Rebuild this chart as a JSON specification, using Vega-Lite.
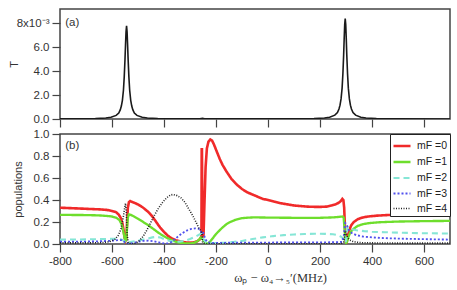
{
  "$schema": "https://vega.github.io/schema/vega-lite/v6.json",
  "padding": {"left": 7, "top": 8, "right": 5, "bottom": 5},
  "background": "white",
  "spacing": 15,
  "bounds": "flush",
  "resolve": {"legend": {"color": "independent", "strokeDash": "independent", "strokeWidth": "independent"}},
  "config": {
    "view": {"stroke": "#444", "strokeWidth": 1.5},
    "font": "Liberation Sans",
    "axis": {"domain": false, "grid": false, "tickCount": 20, "tickColor": "#444", "tickWidth": 1.2, "tickSize": 8, "labelPadding": 3, "labelFontSize": 11.5, "labelColor": "#333", "labelFont": "Liberation Sans", "labelOverlap": false, "labelFlush": false, "labelBound": false, "titleFontWeight": "normal", "titleFontSize": 11, "titleColor": "#333", "titleFont": "Liberation Sans"}
  },
  "datasets": {
    "trans": [
      {"f": -800, "T": 0.01}, {"f": -700, "T": 0.02}, {"f": -664, "T": 0.035}, {"f": -624, "T": 0.08}, {"f": -604, "T": 0.14},
      {"f": -584, "T": 0.3}, {"f": -574, "T": 0.5}, {"f": -568, "T": 0.78}, {"f": -564, "T": 1.08}, {"f": -560, "T": 1.56},
      {"f": -556, "T": 2.4}, {"f": -553, "T": 3.5}, {"f": -550, "T": 5.0}, {"f": -548, "T": 6.2}, {"f": -546, "T": 7.3},
      {"f": -544, "T": 7.8}, {"f": -542, "T": 7.3}, {"f": -540, "T": 6.2}, {"f": -538, "T": 5.0}, {"f": -535, "T": 3.5},
      {"f": -532, "T": 2.4}, {"f": -528, "T": 1.56}, {"f": -524, "T": 1.08}, {"f": -520, "T": 0.78}, {"f": -514, "T": 0.5},
      {"f": -504, "T": 0.3}, {"f": -484, "T": 0.14}, {"f": -464, "T": 0.08}, {"f": -424, "T": 0.035}, {"f": -344, "T": 0.012},
      {"f": -262, "T": 0.02}, {"f": -252, "T": 0.06}, {"f": -244, "T": 0.02}, {"f": -100, "T": 0.008}, {"f": 0, "T": 0.008},
      {"f": 97, "T": 0.013}, {"f": 177, "T": 0.038}, {"f": 217, "T": 0.086}, {"f": 237, "T": 0.15}, {"f": 257, "T": 0.32},
      {"f": 267, "T": 0.54}, {"f": 273, "T": 0.84}, {"f": 277, "T": 1.16}, {"f": 281, "T": 1.68}, {"f": 285, "T": 2.58},
      {"f": 288, "T": 3.77}, {"f": 291, "T": 5.38}, {"f": 293, "T": 6.72}, {"f": 295, "T": 7.9}, {"f": 297, "T": 8.4},
      {"f": 299, "T": 7.9}, {"f": 301, "T": 6.72}, {"f": 303, "T": 5.38}, {"f": 306, "T": 3.77}, {"f": 309, "T": 2.58},
      {"f": 313, "T": 1.68}, {"f": 317, "T": 1.16}, {"f": 321, "T": 0.84}, {"f": 327, "T": 0.54}, {"f": 337, "T": 0.32},
      {"f": 357, "T": 0.15}, {"f": 377, "T": 0.086}, {"f": 417, "T": 0.038}, {"f": 497, "T": 0.013}, {"f": 700, "T": 0.004}
    ],
    "pops": [
      {"s": "mF =0", "f": -800, "p": 0.33}, {"s": "mF =0", "f": -750, "p": 0.325}, {"s": "mF =0", "f": -700, "p": 0.32}, {"s": "mF =0", "f": -650, "p": 0.315},
      {"s": "mF =0", "f": -620, "p": 0.31}, {"s": "mF =0", "f": -600, "p": 0.3}, {"s": "mF =0", "f": -585, "p": 0.29}, {"s": "mF =0", "f": -575, "p": 0.27},
      {"s": "mF =0", "f": -567, "p": 0.24}, {"s": "mF =0", "f": -560, "p": 0.19}, {"s": "mF =0", "f": -555, "p": 0.12}, {"s": "mF =0", "f": -551, "p": 0.05},
      {"s": "mF =0", "f": -548, "p": 0.03}, {"s": "mF =0", "f": -545, "p": 0.05}, {"s": "mF =0", "f": -542, "p": 0.2}, {"s": "mF =0", "f": -539, "p": 0.33},
      {"s": "mF =0", "f": -535, "p": 0.38}, {"s": "mF =0", "f": -530, "p": 0.39}, {"s": "mF =0", "f": -520, "p": 0.38}, {"s": "mF =0", "f": -500, "p": 0.36},
      {"s": "mF =0", "f": -480, "p": 0.33}, {"s": "mF =0", "f": -460, "p": 0.29}, {"s": "mF =0", "f": -445, "p": 0.25}, {"s": "mF =0", "f": -430, "p": 0.2},
      {"s": "mF =0", "f": -415, "p": 0.15}, {"s": "mF =0", "f": -400, "p": 0.11}, {"s": "mF =0", "f": -385, "p": 0.075}, {"s": "mF =0", "f": -370, "p": 0.05},
      {"s": "mF =0", "f": -355, "p": 0.035}, {"s": "mF =0", "f": -340, "p": 0.025}, {"s": "mF =0", "f": -320, "p": 0.015}, {"s": "mF =0", "f": -300, "p": 0.012},
      {"s": "mF =0", "f": -285, "p": 0.015}, {"s": "mF =0", "f": -272, "p": 0.025}, {"s": "mF =0", "f": -263, "p": 0.04}, {"s": "mF =0", "f": -256, "p": 0.07},
      {"s": "mF =0", "f": -255, "p": 0.86}, {"s": "mF =0", "f": -254, "p": 0.86}, {"s": "mF =0", "f": -252, "p": 0.06}, {"s": "mF =0", "f": -248, "p": 0.08},
      {"s": "mF =0", "f": -244, "p": 0.4}, {"s": "mF =0", "f": -240, "p": 0.7}, {"s": "mF =0", "f": -235, "p": 0.87}, {"s": "mF =0", "f": -229, "p": 0.93},
      {"s": "mF =0", "f": -222, "p": 0.95}, {"s": "mF =0", "f": -215, "p": 0.94}, {"s": "mF =0", "f": -207, "p": 0.9}, {"s": "mF =0", "f": -197, "p": 0.84},
      {"s": "mF =0", "f": -185, "p": 0.77}, {"s": "mF =0", "f": -175, "p": 0.72}, {"s": "mF =0", "f": -160, "p": 0.66}, {"s": "mF =0", "f": -140, "p": 0.59},
      {"s": "mF =0", "f": -120, "p": 0.54}, {"s": "mF =0", "f": -100, "p": 0.5}, {"s": "mF =0", "f": -80, "p": 0.47}, {"s": "mF =0", "f": -60, "p": 0.45},
      {"s": "mF =0", "f": -40, "p": 0.43}, {"s": "mF =0", "f": -20, "p": 0.41}, {"s": "mF =0", "f": 0, "p": 0.4}, {"s": "mF =0", "f": 25, "p": 0.385},
      {"s": "mF =0", "f": 50, "p": 0.37}, {"s": "mF =0", "f": 75, "p": 0.36}, {"s": "mF =0", "f": 100, "p": 0.35}, {"s": "mF =0", "f": 125, "p": 0.345},
      {"s": "mF =0", "f": 150, "p": 0.34}, {"s": "mF =0", "f": 175, "p": 0.338}, {"s": "mF =0", "f": 200, "p": 0.337}, {"s": "mF =0", "f": 225, "p": 0.34},
      {"s": "mF =0", "f": 245, "p": 0.35}, {"s": "mF =0", "f": 260, "p": 0.36}, {"s": "mF =0", "f": 272, "p": 0.375}, {"s": "mF =0", "f": 280, "p": 0.39},
      {"s": "mF =0", "f": 286, "p": 0.41}, {"s": "mF =0", "f": 290, "p": 0.4}, {"s": "mF =0", "f": 293, "p": 0.33}, {"s": "mF =0", "f": 296, "p": 0.15},
      {"s": "mF =0", "f": 299, "p": 0.02}, {"s": "mF =0", "f": 302, "p": 0.01}, {"s": "mF =0", "f": 306, "p": 0.06}, {"s": "mF =0", "f": 312, "p": 0.12},
      {"s": "mF =0", "f": 320, "p": 0.17}, {"s": "mF =0", "f": 330, "p": 0.2}, {"s": "mF =0", "f": 345, "p": 0.225}, {"s": "mF =0", "f": 362, "p": 0.24},
      {"s": "mF =0", "f": 385, "p": 0.25}, {"s": "mF =0", "f": 420, "p": 0.258}, {"s": "mF =0", "f": 460, "p": 0.263}, {"s": "mF =0", "f": 520, "p": 0.268},
      {"s": "mF =0", "f": 600, "p": 0.273}, {"s": "mF =0", "f": 700, "p": 0.278},

      {"s": "mF =1", "f": -800, "p": 0.265}, {"s": "mF =1", "f": -700, "p": 0.263}, {"s": "mF =1", "f": -650, "p": 0.26}, {"s": "mF =1", "f": -620, "p": 0.255},
      {"s": "mF =1", "f": -600, "p": 0.25}, {"s": "mF =1", "f": -585, "p": 0.24}, {"s": "mF =1", "f": -572, "p": 0.22}, {"s": "mF =1", "f": -563, "p": 0.18},
      {"s": "mF =1", "f": -557, "p": 0.12}, {"s": "mF =1", "f": -552, "p": 0.06}, {"s": "mF =1", "f": -548, "p": 0.03}, {"s": "mF =1", "f": -545, "p": 0.04},
      {"s": "mF =1", "f": -542, "p": 0.15}, {"s": "mF =1", "f": -539, "p": 0.24}, {"s": "mF =1", "f": -535, "p": 0.27}, {"s": "mF =1", "f": -528, "p": 0.265},
      {"s": "mF =1", "f": -515, "p": 0.25}, {"s": "mF =1", "f": -500, "p": 0.23}, {"s": "mF =1", "f": -480, "p": 0.2}, {"s": "mF =1", "f": -460, "p": 0.17},
      {"s": "mF =1", "f": -440, "p": 0.135}, {"s": "mF =1", "f": -420, "p": 0.1}, {"s": "mF =1", "f": -400, "p": 0.07}, {"s": "mF =1", "f": -380, "p": 0.045},
      {"s": "mF =1", "f": -360, "p": 0.025}, {"s": "mF =1", "f": -340, "p": 0.012}, {"s": "mF =1", "f": -320, "p": 0.006}, {"s": "mF =1", "f": -300, "p": 0.005},
      {"s": "mF =1", "f": -285, "p": 0.01}, {"s": "mF =1", "f": -272, "p": 0.025}, {"s": "mF =1", "f": -263, "p": 0.045}, {"s": "mF =1", "f": -257, "p": 0.06},
      {"s": "mF =1", "f": -253, "p": 0.05}, {"s": "mF =1", "f": -248, "p": 0.03}, {"s": "mF =1", "f": -242, "p": 0.015}, {"s": "mF =1", "f": -235, "p": 0.005},
      {"s": "mF =1", "f": -228, "p": 0.01}, {"s": "mF =1", "f": -220, "p": 0.03}, {"s": "mF =1", "f": -210, "p": 0.06}, {"s": "mF =1", "f": -200, "p": 0.09},
      {"s": "mF =1", "f": -190, "p": 0.115}, {"s": "mF =1", "f": -175, "p": 0.15}, {"s": "mF =1", "f": -160, "p": 0.18}, {"s": "mF =1", "f": -145, "p": 0.2},
      {"s": "mF =1", "f": -125, "p": 0.22}, {"s": "mF =1", "f": -100, "p": 0.235}, {"s": "mF =1", "f": -75, "p": 0.24}, {"s": "mF =1", "f": -50, "p": 0.242},
      {"s": "mF =1", "f": 0, "p": 0.24}, {"s": "mF =1", "f": 100, "p": 0.238}, {"s": "mF =1", "f": 200, "p": 0.238}, {"s": "mF =1", "f": 250, "p": 0.242},
      {"s": "mF =1", "f": 275, "p": 0.247}, {"s": "mF =1", "f": 286, "p": 0.25}, {"s": "mF =1", "f": 291, "p": 0.24}, {"s": "mF =1", "f": 294, "p": 0.15},
      {"s": "mF =1", "f": 297, "p": 0.05}, {"s": "mF =1", "f": 300, "p": 0.01}, {"s": "mF =1", "f": 304, "p": 0.02}, {"s": "mF =1", "f": 310, "p": 0.07},
      {"s": "mF =1", "f": 318, "p": 0.11}, {"s": "mF =1", "f": 330, "p": 0.14}, {"s": "mF =1", "f": 345, "p": 0.165}, {"s": "mF =1", "f": 365, "p": 0.18},
      {"s": "mF =1", "f": 390, "p": 0.19}, {"s": "mF =1", "f": 430, "p": 0.198}, {"s": "mF =1", "f": 500, "p": 0.204}, {"s": "mF =1", "f": 600, "p": 0.208},
      {"s": "mF =1", "f": 700, "p": 0.21},

      {"s": "mF =2", "f": -800, "p": 0.04}, {"s": "mF =2", "f": -700, "p": 0.042}, {"s": "mF =2", "f": -620, "p": 0.045}, {"s": "mF =2", "f": -590, "p": 0.048},
      {"s": "mF =2", "f": -570, "p": 0.045}, {"s": "mF =2", "f": -558, "p": 0.035}, {"s": "mF =2", "f": -550, "p": 0.02}, {"s": "mF =2", "f": -545, "p": 0.01},
      {"s": "mF =2", "f": -538, "p": 0.015}, {"s": "mF =2", "f": -525, "p": 0.02}, {"s": "mF =2", "f": -500, "p": 0.03}, {"s": "mF =2", "f": -470, "p": 0.045},
      {"s": "mF =2", "f": -445, "p": 0.06}, {"s": "mF =2", "f": -430, "p": 0.065}, {"s": "mF =2", "f": -415, "p": 0.06}, {"s": "mF =2", "f": -400, "p": 0.045},
      {"s": "mF =2", "f": -380, "p": 0.03}, {"s": "mF =2", "f": -360, "p": 0.022}, {"s": "mF =2", "f": -340, "p": 0.022}, {"s": "mF =2", "f": -320, "p": 0.03},
      {"s": "mF =2", "f": -300, "p": 0.045}, {"s": "mF =2", "f": -280, "p": 0.065}, {"s": "mF =2", "f": -265, "p": 0.085}, {"s": "mF =2", "f": -257, "p": 0.095},
      {"s": "mF =2", "f": -252, "p": 0.07}, {"s": "mF =2", "f": -246, "p": 0.035}, {"s": "mF =2", "f": -238, "p": 0.015}, {"s": "mF =2", "f": -225, "p": 0.008},
      {"s": "mF =2", "f": -200, "p": 0.008}, {"s": "mF =2", "f": -170, "p": 0.012}, {"s": "mF =2", "f": -130, "p": 0.02}, {"s": "mF =2", "f": -100, "p": 0.028},
      {"s": "mF =2", "f": -60, "p": 0.045}, {"s": "mF =2", "f": -20, "p": 0.06}, {"s": "mF =2", "f": 20, "p": 0.072}, {"s": "mF =2", "f": 60, "p": 0.081},
      {"s": "mF =2", "f": 100, "p": 0.087}, {"s": "mF =2", "f": 140, "p": 0.091}, {"s": "mF =2", "f": 180, "p": 0.093}, {"s": "mF =2", "f": 220, "p": 0.092},
      {"s": "mF =2", "f": 250, "p": 0.088}, {"s": "mF =2", "f": 270, "p": 0.08}, {"s": "mF =2", "f": 282, "p": 0.065}, {"s": "mF =2", "f": 290, "p": 0.045},
      {"s": "mF =2", "f": 295, "p": 0.02}, {"s": "mF =2", "f": 299, "p": 0.01}, {"s": "mF =2", "f": 302, "p": 0.08}, {"s": "mF =2", "f": 306, "p": 0.15},
      {"s": "mF =2", "f": 312, "p": 0.15}, {"s": "mF =2", "f": 322, "p": 0.135}, {"s": "mF =2", "f": 340, "p": 0.125}, {"s": "mF =2", "f": 370, "p": 0.117},
      {"s": "mF =2", "f": 400, "p": 0.112}, {"s": "mF =2", "f": 450, "p": 0.107}, {"s": "mF =2", "f": 520, "p": 0.102}, {"s": "mF =2", "f": 600, "p": 0.098},
      {"s": "mF =2", "f": 700, "p": 0.095},

      {"s": "mF =3", "f": -800, "p": 0.02}, {"s": "mF =3", "f": -700, "p": 0.022}, {"s": "mF =3", "f": -640, "p": 0.025}, {"s": "mF =3", "f": -600, "p": 0.03},
      {"s": "mF =3", "f": -575, "p": 0.035}, {"s": "mF =3", "f": -562, "p": 0.035}, {"s": "mF =3", "f": -553, "p": 0.02}, {"s": "mF =3", "f": -546, "p": 0.005},
      {"s": "mF =3", "f": -535, "p": 0.003}, {"s": "mF =3", "f": -520, "p": 0.008}, {"s": "mF =3", "f": -500, "p": 0.02}, {"s": "mF =3", "f": -480, "p": 0.028},
      {"s": "mF =3", "f": -460, "p": 0.03}, {"s": "mF =3", "f": -440, "p": 0.025}, {"s": "mF =3", "f": -420, "p": 0.015}, {"s": "mF =3", "f": -400, "p": 0.005},
      {"s": "mF =3", "f": -385, "p": 0.005}, {"s": "mF =3", "f": -370, "p": 0.02}, {"s": "mF =3", "f": -355, "p": 0.05}, {"s": "mF =3", "f": -340, "p": 0.08},
      {"s": "mF =3", "f": -325, "p": 0.105}, {"s": "mF =3", "f": -310, "p": 0.125}, {"s": "mF =3", "f": -295, "p": 0.137}, {"s": "mF =3", "f": -280, "p": 0.142},
      {"s": "mF =3", "f": -268, "p": 0.14}, {"s": "mF =3", "f": -260, "p": 0.125}, {"s": "mF =3", "f": -255, "p": 0.1}, {"s": "mF =3", "f": -250, "p": 0.11},
      {"s": "mF =3", "f": -246, "p": 0.08}, {"s": "mF =3", "f": -240, "p": 0.04}, {"s": "mF =3", "f": -232, "p": 0.015}, {"s": "mF =3", "f": -220, "p": 0.008},
      {"s": "mF =3", "f": -200, "p": 0.01}, {"s": "mF =3", "f": -100, "p": 0.012}, {"s": "mF =3", "f": 0, "p": 0.013}, {"s": "mF =3", "f": 100, "p": 0.014},
      {"s": "mF =3", "f": 200, "p": 0.015}, {"s": "mF =3", "f": 270, "p": 0.016}, {"s": "mF =3", "f": 285, "p": 0.02}, {"s": "mF =3", "f": 292, "p": 0.08},
      {"s": "mF =3", "f": 297, "p": 0.19}, {"s": "mF =3", "f": 302, "p": 0.18}, {"s": "mF =3", "f": 310, "p": 0.13}, {"s": "mF =3", "f": 322, "p": 0.1},
      {"s": "mF =3", "f": 340, "p": 0.08}, {"s": "mF =3", "f": 365, "p": 0.068}, {"s": "mF =3", "f": 400, "p": 0.06}, {"s": "mF =3", "f": 450, "p": 0.053},
      {"s": "mF =3", "f": 520, "p": 0.048}, {"s": "mF =3", "f": 600, "p": 0.044}, {"s": "mF =3", "f": 700, "p": 0.04},

      {"s": "mF =4", "f": -800, "p": 0.01}, {"s": "mF =4", "f": -700, "p": 0.01}, {"s": "mF =4", "f": -640, "p": 0.012}, {"s": "mF =4", "f": -610, "p": 0.02},
      {"s": "mF =4", "f": -590, "p": 0.04}, {"s": "mF =4", "f": -575, "p": 0.08}, {"s": "mF =4", "f": -565, "p": 0.14}, {"s": "mF =4", "f": -557, "p": 0.24},
      {"s": "mF =4", "f": -551, "p": 0.33}, {"s": "mF =4", "f": -548, "p": 0.37}, {"s": "mF =4", "f": -545, "p": 0.3}, {"s": "mF =4", "f": -542, "p": 0.1},
      {"s": "mF =4", "f": -538, "p": 0.01}, {"s": "mF =4", "f": -525, "p": 0.0}, {"s": "mF =4", "f": -510, "p": 0.005}, {"s": "mF =4", "f": -495, "p": 0.03},
      {"s": "mF =4", "f": -480, "p": 0.07}, {"s": "mF =4", "f": -465, "p": 0.13}, {"s": "mF =4", "f": -450, "p": 0.2}, {"s": "mF =4", "f": -435, "p": 0.27},
      {"s": "mF =4", "f": -420, "p": 0.33}, {"s": "mF =4", "f": -405, "p": 0.38}, {"s": "mF =4", "f": -390, "p": 0.42}, {"s": "mF =4", "f": -375, "p": 0.445},
      {"s": "mF =4", "f": -365, "p": 0.45}, {"s": "mF =4", "f": -350, "p": 0.44}, {"s": "mF =4", "f": -335, "p": 0.42}, {"s": "mF =4", "f": -320, "p": 0.38},
      {"s": "mF =4", "f": -305, "p": 0.32}, {"s": "mF =4", "f": -290, "p": 0.26}, {"s": "mF =4", "f": -275, "p": 0.19}, {"s": "mF =4", "f": -265, "p": 0.14},
      {"s": "mF =4", "f": -258, "p": 0.12}, {"s": "mF =4", "f": -254, "p": 0.1}, {"s": "mF =4", "f": -252, "p": 0.02}, {"s": "mF =4", "f": -248, "p": 0.005},
      {"s": "mF =4", "f": -240, "p": 0.002}, {"s": "mF =4", "f": -200, "p": 0.001}, {"s": "mF =4", "f": 0, "p": 0.001}, {"s": "mF =4", "f": 280, "p": 0.002},
      {"s": "mF =4", "f": 292, "p": 0.02}, {"s": "mF =4", "f": 297, "p": 0.12}, {"s": "mF =4", "f": 300, "p": 0.1}, {"s": "mF =4", "f": 306, "p": 0.06},
      {"s": "mF =4", "f": 315, "p": 0.035}, {"s": "mF =4", "f": 330, "p": 0.02}, {"s": "mF =4", "f": 360, "p": 0.012}, {"s": "mF =4", "f": 400, "p": 0.01},
      {"s": "mF =4", "f": 500, "p": 0.008}, {"s": "mF =4", "f": 700, "p": 0.008}
    ],
    "labA": [{"f": -780, "T": 8.0, "t": "(a)"}],
    "labB": [{"f": -780, "p": 0.89, "t": "(b)"}]
  },
  "vconcat": [
    {
      "width": 390,
      "height": 110,
      "layer": [
        {
          "data": {"name": "trans"},
          "mark": {"type": "line", "color": "#1a1a1a", "strokeWidth": 1.6, "clip": true},
          "encoding": {
            "x": {"field": "f", "type": "quantitative", "scale": {"domain": [-800, 700], "nice": false, "zero": false},
                  "axis": {"values": [-800, -600, -400, -200, 0, 200, 400, 600], "tickCount": 20, "labels": false, "title": null}},
            "y": {"field": "T", "type": "quantitative", "scale": {"domain": [0, 9.2], "nice": false},
                  "axis": {"values": [0, 2, 4, 6, 8], "tickCount": 20, "labelOverlap": false, "labelExpr": "datum.value == 8 ? '8x10⁻³' : datum.label", "title": "T", "titleX": -46, "titleY": 55, "titleAlign": "center", "titleBaseline": "middle"}}
          }
        },
        {
          "data": {"name": "labA"},
          "mark": {"type": "text", "align": "left", "baseline": "middle", "fontSize": 11.5, "color": "#333", "font": "Liberation Sans"},
          "encoding": {
            "x": {"field": "f", "type": "quantitative",
                  "axis": {"values": [-800, -600, -400, -200, 0, 200, 400, 600], "tickCount": 20, "labels": false, "title": null}},
            "y": {"field": "T", "type": "quantitative",
                  "axis": {"values": [0, 2, 4, 6, 8], "tickCount": 20, "labelOverlap": false, "labelExpr": "datum.value == 8 ? '8x10⁻³' : datum.label", "title": "T", "titleX": -46, "titleY": 55, "titleAlign": "center", "titleBaseline": "middle"}},
            "text": {"field": "t"}
          }
        }
      ]
    },
    {
      "width": 390,
      "height": 110,
      "layer": [
        {
          "data": {"name": "pops"},
          "mark": {"type": "line", "clip": true},
          "encoding": {
            "x": {"field": "f", "type": "quantitative", "scale": {"domain": [-800, 700], "nice": false, "zero": false},
                  "axis": {"values": [-800, -600, -400, -200, 0, 200, 400, 600], "tickCount": 20, "labelOverlap": false, "labelExpr": "datum.value < 0 ? '-' + format(-datum.value, 'd') : format(datum.value, 'd')",
                           "title": "ωₚ − ω₄→₅′(MHz)", "titleFont": "Liberation Serif", "titleFontSize": 12.5, "titleX": 220, "titleY": 33, "titleAlign": "center", "titleBaseline": "middle"}},
            "y": {"field": "p", "type": "quantitative", "scale": {"domain": [0, 1], "nice": false},
                  "axis": {"values": [0, 0.2, 0.4, 0.6, 0.8, 1.0], "tickCount": 20, "labelOverlap": false, "format": ".1f", "title": "populations", "titleX": -42, "titleY": 55, "titleAlign": "center", "titleBaseline": "middle"}},
            "color": {"field": "s", "type": "nominal",
                      "scale": {"domain": ["mF =0", "mF =1", "mF =2", "mF =3", "mF =4"], "range": ["#f02a2a", "#6ede2c", "#86e6d6", "#5050ee", "#222222"]},
                      "legend": {"title": null, "orient": "top-right", "offset": 0, "fillColor": "white", "strokeColor": "#222", "padding": 2, "symbolType": "stroke", "symbolSize": 289, "labelFontSize": 10.5, "labelColor": "#222", "labelFont": "Liberation Sans", "rowPadding": -2.5, "labelOffset": 5}},
            "strokeDash": {"field": "s", "type": "nominal",
                           "scale": {"domain": ["mF =0", "mF =1", "mF =2", "mF =3", "mF =4"], "range": [[1, 0], [1, 0], [6, 4], [2, 2], [1, 1.5]]}},
            "strokeWidth": {"field": "s", "type": "nominal",
                            "scale": {"domain": ["mF =0", "mF =1", "mF =2", "mF =3", "mF =4"], "range": [2.6, 1.6, 1.5, 2, 1.1]}}
          }
        },
        {
          "data": {"name": "labB"},
          "mark": {"type": "text", "align": "left", "baseline": "middle", "fontSize": 11.5, "color": "#333", "font": "Liberation Sans"},
          "encoding": {
            "x": {"field": "f", "type": "quantitative"},
            "y": {"field": "p", "type": "quantitative"},
            "text": {"field": "t"}
          }
        }
      ]
    }
  ]
}
